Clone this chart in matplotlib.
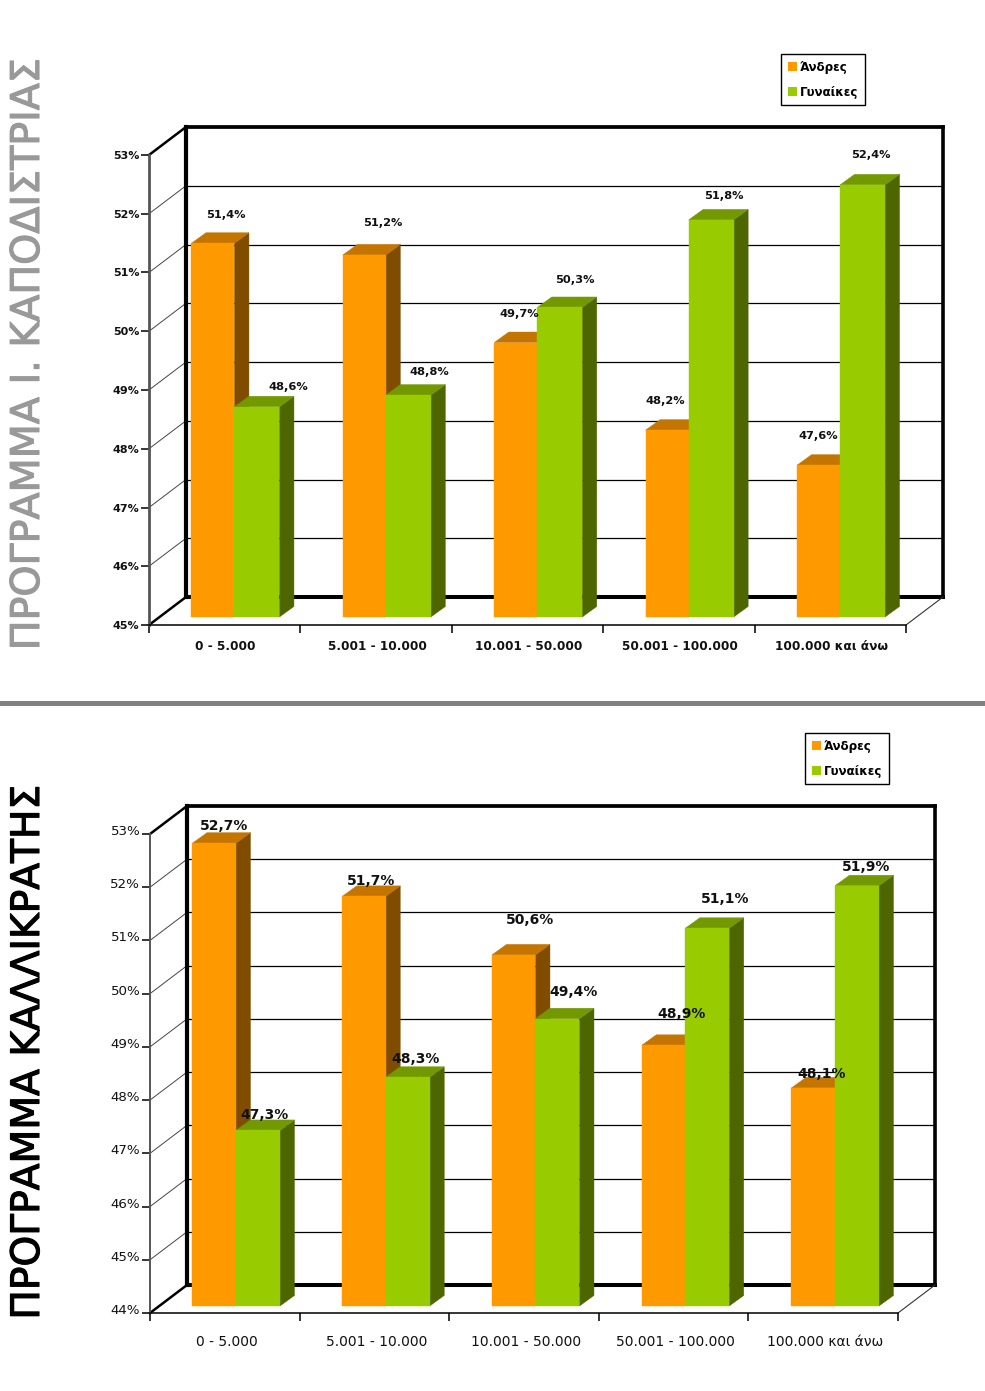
import matplotlib
matplotlib.use("Agg")
import matplotlib.pyplot as plt
import matplotlib.patheffects as pe
from matplotlib.patches import Patch, Polygon, Rectangle
from matplotlib.transforms import ScaledTranslation

W, H = 985, 1391
DPI = 100

categorias = ["0 - 5.000", "5.001 - 10.000", "10.001 - 50.000", "50.001 - 100.000", "100.000 και άνω"]
series = ["Άνδρες", "Γυναίκες"]

# PROGRAMMA 1
andres_1 = [51.4, 51.2, 49.7, 48.2, 47.6]
gynaikes_1 = [48.6, 48.8, 50.3, 51.8, 52.4]
yticks_1 = [45, 46, 47, 48, 49, 50, 51, 52, 53]
titlos_1 = "ΠΡΟΓΡΑΜΜΑ Ι. ΚΑΠΟΔΙΣΤΡΙΑΣ"

# PROGRAMMA 2
andres_2 = [52.7, 51.7, 50.6, 48.9, 48.1]
gynaikes_2 = [47.3, 48.3, 49.4, 51.1, 51.9]
yticks_2 = [44, 45, 46, 47, 48, 49, 50, 51, 52, 53]
titlos_2 = "ΠΡΟΓΡΑΜΜΑ ΚΑΛΛΙΚΡΑΤΗΣ"

# desplazamiento de cada etiqueta respecto al centro de la barra, en pixeles
off_and_1 = [(13, 28), (18, 32), (3, 29), (-2, 29), (0, 29)]
off_gyn_1 = [(31, 20), (21, 23), (15, 27), (13, 24), (8, 30)]
off_and_2 = [(10, 17), (7, 15), (16, 35), (18, 31), (8, 14)]
off_gyn_2 = [(7, 15), (8, 18), (16, 27), (18, 29), (9, 19)]

NARANJA = ("#FF9900", "#C47500", "#804D00")
VERDE = ("#99CC00", "#739900", "#4D6600")

plt.rcParams["font.family"] = ["DejaVu Sans"]


def caja(fig, x0, x1, ytop, ybot, **kw):
    return fig.add_axes([x0 / W, 1 - ybot / H, (x1 - x0) / W, (ybot - ytop) / H], **kw)


def barra(ax, x0, x1, v, base, colores, prof_x, prof_y):
    # cara lateral y superior, luego la frontal
    ax.add_patch(Polygon([(x1, base), (x1 + prof_x, base + prof_y), (x1 + prof_x, v + prof_y), (x1, v)],
                         facecolor=colores[2], edgecolor=colores[2], linewidth=0.3, clip_on=False))
    ax.add_patch(Polygon([(x0, v), (x1, v), (x1 + prof_x, v + prof_y), (x0 + prof_x, v + prof_y)],
                         facecolor=colores[1], edgecolor=colores[1], linewidth=0.3, clip_on=False))
    ax.bar(x0, v - base, width=x1 - x0, bottom=base, align="edge", color=colores[0],
           edgecolor=colores[0], linewidth=0.3, clip_on=False)


def grafico(fig, frente, barras, andres, gynaikes, yticks, off_a, off_g, ancho_a, ancho_g,
            negrita, tam_y, tam_x, tam_d, sube_y, baja_x, der_x, ancho_eje):
    # pared y ejes
    x0, x1, ytop, ybot = frente
    ax = caja(fig, x0, x1, ytop, ybot)
    ax.set_xlim(0, 5)
    ax.set_ylim(yticks[0], yticks[-1])
    ax.patch.set_alpha(0)
    ppx = (x1 - x0) / 5
    ppy = (ybot - ytop) / (yticks[-1] - yticks[0])
    dx = 37 / ppx
    dy = 28 / ppy
    for v in yticks[1:-1]:
        ax.plot([0, dx], [v, v + dy], color="#444444", lw=0.7, clip_on=False)
        ax.plot([dx, 5 + dx], [v + dy, v + dy], color="black", lw=0.9, clip_on=False)
    y0, y1 = yticks[0], yticks[-1]
    ax.plot([dx, dx], [y0 + dy, y1 + dy], color="black", lw=3, clip_on=False, solid_capstyle="projecting")
    ax.plot([5 + dx, 5 + dx], [y0 + dy, y1 + dy], color="black", lw=2.6, clip_on=False, solid_capstyle="projecting")
    ax.plot([dx, 5 + dx], [y1 + dy, y1 + dy], color="black", lw=2.7, clip_on=False)
    ax.plot([dx, 5 + dx], [y0 + dy, y0 + dy], color="black", lw=2.9, clip_on=False)
    ax.plot([0, dx], [y1, y1 + dy], color="black", lw=1.8, clip_on=False)
    ax.plot([0, dx], [y0, y0 + dy], color="black", lw=1.8, clip_on=False)
    ax.plot([5, 5 + dx], [y0, y0 + dy], color="#333333", lw=0.8, clip_on=False)

    peso = "bold" if negrita else "normal"
    for s in ["top", "right"]:
        ax.spines[s].set_visible(False)
    ax.spines["left"].set_color("#555555")
    ax.spines["left"].set_linewidth(ancho_eje)
    ax.spines["bottom"].set_linewidth(1.1)
    ax.set_yticks(yticks)
    ax.set_yticklabels([f"{v}%" for v in yticks], fontsize=tam_y, fontweight=peso, color="#111111")
    ax.set_xticks(range(6))
    ax.set_xticklabels([])
    ax.set_xticks([i + 0.5 for i in range(5)], minor=True)
    ax.set_xticklabels(categorias, minor=True, fontsize=tam_x, fontweight=peso, color="#111111")
    ax.tick_params(axis="y", length=5.5, width=1.1, pad=1.5)
    ax.tick_params(axis="x", which="major", length=5.5, width=1.1)
    ax.tick_params(axis="x", which="minor", length=0, pad=baja_x)
    tr = ScaledTranslation(0, sube_y / DPI, fig.dpi_scale_trans)
    for t in ax.get_yticklabels():
        t.set_transform(t.get_transform() + tr)
    tr_x = ScaledTranslation(der_x / DPI, 0, fig.dpi_scale_trans)
    for t in ax.get_xticklabels(minor=True):
        t.set_transform(t.get_transform() + tr_x)

    # barras
    bx0, bx1, bytop, bybot = barras
    ab = caja(fig, bx0, bx1, bytop, bybot)
    ab.set_xlim(0, 5)
    ab.set_ylim(yticks[0], yticks[-1])
    ab.axis("off")
    bpx = (bx1 - bx0) / 5
    bpy = (bybot - bytop) / (yticks[-1] - yticks[0])
    prof_x = 14.5 / bpx
    prof_y = 10.5 / bpy
    base = yticks[0]
    for i in range(5):
        c = i + 0.5
        a = andres[i]
        g = gynaikes[i]
        barra(ab, c - ancho_a / bpx, c, a, base, NARANJA, prof_x, prof_y)
        barra(ab, c, c + ancho_g / bpx, g, base, VERDE, prof_x, prof_y)
        for v, m, off in [(a, c - ancho_a / bpx / 2, off_a[i]), (g, c + ancho_g / bpx / 2, off_g[i])]:
            ab.annotate(f"{v:.1f}%".replace(".", ","), (m, v), xytext=off, textcoords="offset pixels",
                        ha="center", va="center", fontsize=tam_d, fontweight="bold", color="#111111",
                        annotation_clip=False)
    return ax


fig = plt.figure(figsize=(W / DPI, H / DPI), dpi=DPI, facecolor="white")

ax1 = grafico(fig, (149, 906, 155, 625), (158.75, 915.75, 149.8, 617), andres_1, gynaikes_1, yticks_1,
              off_and_1, off_gyn_1, 43, 45, True, 8, 8.7, 8.2, 0, 10.5, 1, 2)
ax2 = grafico(fig, (150, 898, 834, 1313), (161.1, 909.85, 827.2, 1306), andres_2, gynaikes_2, yticks_2,
              off_and_2, off_gyn_2, 43.5, 44, False, 9.6, 10, 10, 4, 16, 2, 1.4)

# LEYENDAS
handles = [Patch(facecolor=NARANJA[0], edgecolor="none"), Patch(facecolor=VERDE[0], edgecolor="none")]
for bbox in [(781 / W, 1 - 54 / H), (805 / W, 1 - 733 / H)]:
    fig.legend(handles, series, loc="upper left", bbox_to_anchor=bbox, borderaxespad=0, fancybox=False,
               framealpha=1, edgecolor="black", handlelength=0.8, handleheight=0.75, handletextpad=0.25,
               labelspacing=1.0, borderpad=0.55, prop={"size": 8.6, "weight": "bold"})

# TITULOS VERTICALES
fig.text(28 / W, 1 - 354 / H, titlos_1, rotation=90, ha="center", va="center", fontsize=28.5, color="#999999",
         path_effects=[pe.withStroke(linewidth=0.8, foreground="#999999")])
fig.text(28 / W, 1 - 1052 / H, titlos_2, rotation=90, ha="center", va="center", fontsize=28.2, color="black",
         path_effects=[pe.withStroke(linewidth=0.8, foreground="black")])

# SEPARADOR
fig.add_artist(Rectangle((0, 1 - 706 / H), 1, 5 / H, transform=fig.transFigure, facecolor="#808080", edgecolor="none"))

fig.savefig("out.png", dpi=DPI)
